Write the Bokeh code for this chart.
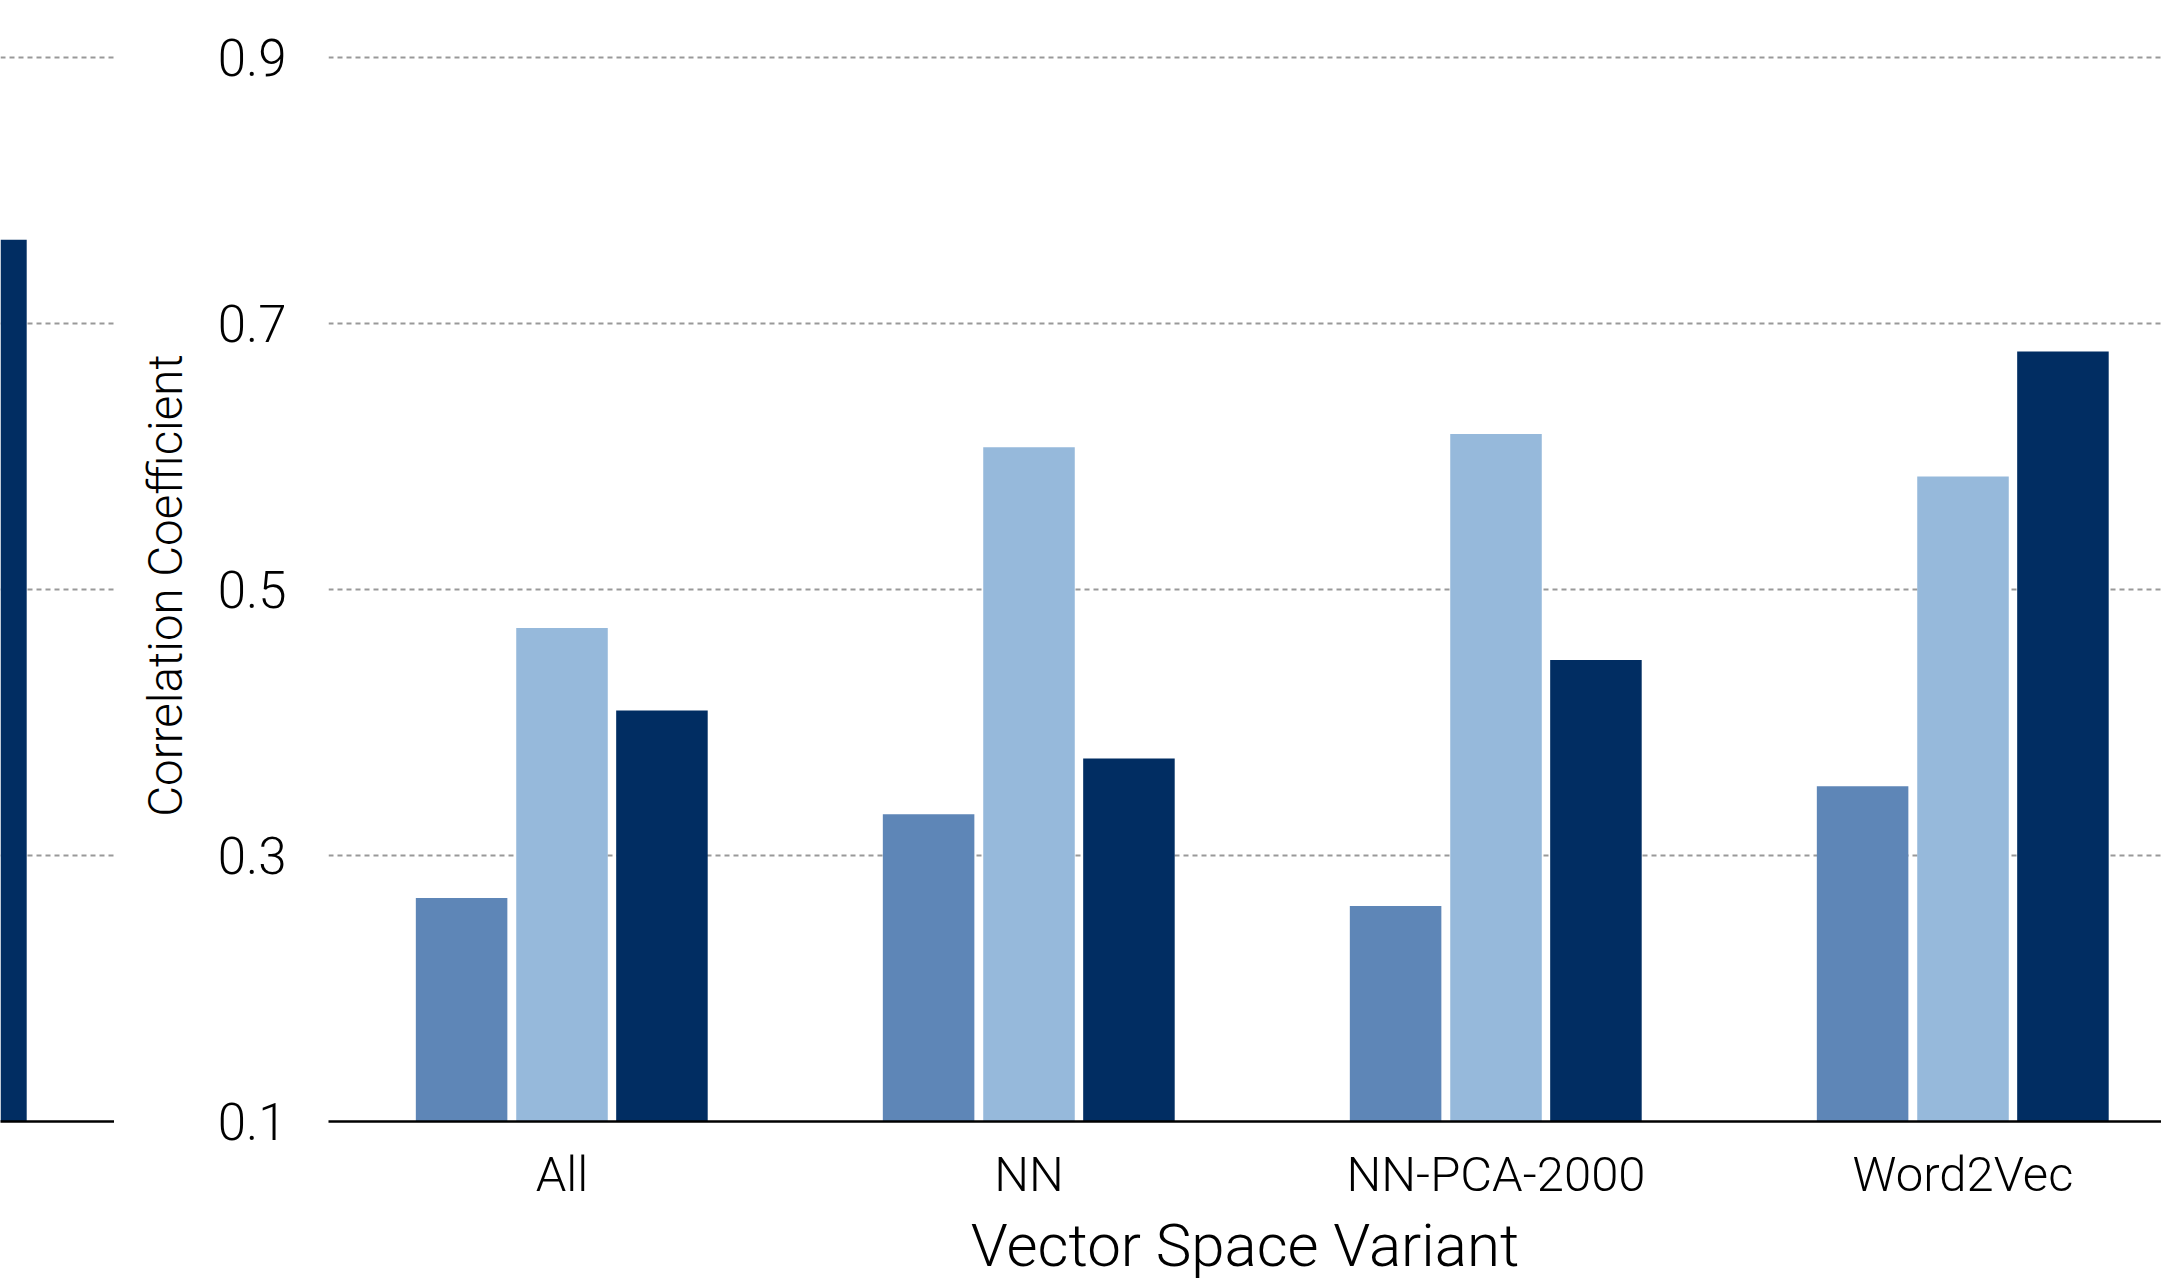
import numpy as np
from bokeh.plotting import figure
from bokeh.layouts import row
from bokeh.models import Range1d, FixedTicker
from bokeh.embed import file_html
from bokeh.resources import INLINE

# ---- data -------------------------------------------------------------
variants = ["All", "NN", "NN-PCA-2000", "Word2Vec"]
series_a = [0.268, 0.331, 0.262, 0.352]   # mid blue bars
series_b = [0.471, 0.607, 0.617, 0.585]   # light blue bars
series_c = [0.409, 0.373, 0.447, 0.679]   # dark navy bars
neighbour_last_c = [0.763]                # last navy bar of the neighbouring panel
y_ticks = [0.1, 0.3, 0.5, 0.7, 0.9]

# ---- style ------------------------------------------------------------
COL_A, COL_B, COL_C = "#5E86B7", "#96B9DB", "#012D62"
FONT = "Roboto Light"
GRID = dict(grid_line_color="#999999", grid_line_width=2, grid_line_dash="5 4")
BASE = y_ticks[0]
Y_END = y_ticks[-1] + 0.006   # a little headroom so the top gridline is drawn
BAND_PX = 467                 # pixels per category band
BAR_W = 0.196
OFFS = [-0.215, 0.0, 0.214]
TOP_BORDER = 49

# ---- neighbouring panel (only its right edge shows) -------------------
left_w = 114
left = figure(width=left_w, height=1288, output_backend="svg", toolbar_location=None,
              x_range=Range1d(3.5 - left_w / BAND_PX, 3.5), y_range=Range1d(BASE, Y_END),
              min_border_left=0, min_border_right=0, min_border_top=TOP_BORDER - 2,
              min_border_bottom=167)
left.outline_line_color = None
left.background_fill_color = "white"
left.border_fill_color = "white"
left.vbar(x=[3 + OFFS[2]], top=neighbour_last_c, bottom=BASE, width=BAR_W,
          fill_color=COL_C, line_color=None)
left.yaxis.visible = False
left.xgrid.grid_line_color = None
left.ygrid.ticker = FixedTicker(ticks=y_ticks)
for k, v in GRID.items():
    setattr(left.ygrid, k, v)
left.xaxis.ticker = FixedTicker(ticks=[])
left.xaxis.axis_line_color = "black"
left.xaxis.axis_line_width = 2.5
left.xaxis.major_tick_line_color = None
left.xaxis.minor_tick_line_color = None

# ---- main panel -------------------------------------------------------
main_w = 2161 - left_w
p = figure(width=main_w, height=1288, output_backend="svg", toolbar_location=None,
           x_range=Range1d(-0.5, -0.5 + (2161 - 328) / BAND_PX), y_range=Range1d(BASE, Y_END),
           min_border_left=214, min_border_right=0, min_border_top=TOP_BORDER,
           min_border_bottom=165,
           x_axis_label="Vector Space Variant", y_axis_label="Correlation Coefficient")
p.outline_line_color = None
p.background_fill_color = "white"
p.border_fill_color = "white"

xs = np.arange(len(variants))
for off, vals, col in zip(OFFS, [series_a, series_b, series_c], [COL_A, COL_B, COL_C]):
    p.vbar(x=xs + off, top=vals, bottom=BASE, width=BAR_W, fill_color=col, line_color=None)

p.xgrid.grid_line_color = None
p.ygrid.ticker = FixedTicker(ticks=y_ticks)
for k, v in GRID.items():
    setattr(p.ygrid, k, v)

xa = p.xaxis[0]
xa.ticker = FixedTicker(ticks=list(xs))
xa.major_label_overrides = {int(i): name for i, name in zip(xs, variants)}
xa.axis_line_color = "black"
xa.axis_line_width = 2.5
xa.major_tick_line_color = None
xa.minor_tick_line_color = None
xa.major_label_text_font = FONT
xa.major_label_text_font_size = "49px"
xa.major_label_text_color = "black"
xa.major_label_standoff = 18
xa.axis_label_text_font = FONT
xa.axis_label_text_font_size = "60px"
xa.axis_label_text_font_style = "normal"
xa.axis_label_text_color = "black"
xa.axis_label_standoff = 4

ya = p.yaxis[0]
ya.ticker = FixedTicker(ticks=y_ticks)
ya.axis_line_color = None
ya.major_tick_line_color = None
ya.minor_tick_line_color = None
ya.major_label_text_font = FONT
ya.major_label_text_font_size = "51px"
ya.major_label_text_color = "black"
ya.major_label_standoff = 36
ya.axis_label_text_font = FONT
ya.axis_label_text_font_size = "47.5px"
ya.axis_label_text_font_style = "normal"
ya.axis_label_text_color = "black"
ya.axis_label_standoff = 21

layout = row(left, p, spacing=0)
open("out.html", "w").write(file_html(layout, INLINE))
